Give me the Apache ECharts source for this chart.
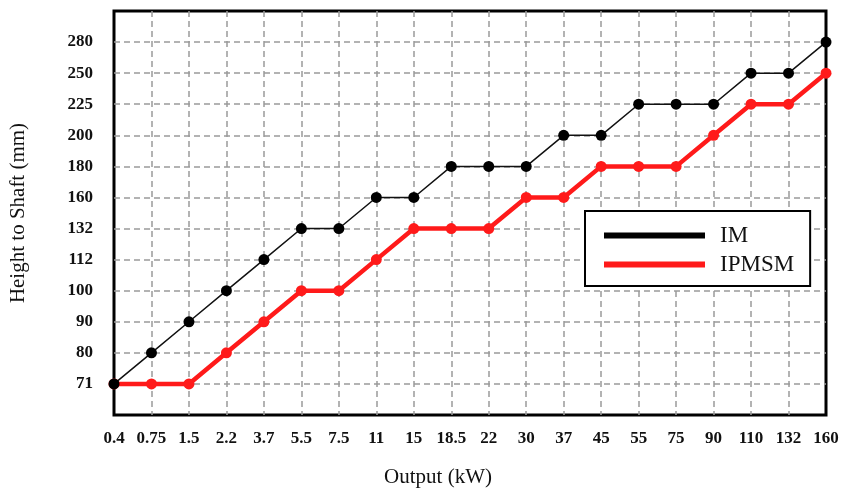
<!DOCTYPE html>
<html>
<head>
<meta charset="utf-8">
<script src="https://cdn.jsdelivr.net/npm/echarts@6/dist/echarts.min.js"></script>
<style>
  html, body { margin: 0; padding: 0; background: #fff; }
  #chart { width: 845px; height: 493px; }
</style>
</head>
<body>
<div id="chart"></div>
<script>
// Rated output classes (kW), shown as evenly spaced categories
const outputs = ['0.4', '0.75', '1.5', '2.2', '3.7', '5.5', '7.5', '11', '15', '18.5',
                 '22', '30', '37', '45', '55', '75', '90', '110', '132', '160'];

// Standard frame shaft heights (mm), evenly spaced with an empty slot at each end
const heightTicks = [' ', '71', '80', '90', '100', '112', '132', '160', '180', '200', '225', '250', '280', '  '];

// Shaft height per output class
const imHeights    = [71, 80, 90, 100, 112, 132, 132, 160, 160, 180, 180, 180, 200, 200, 225, 225, 225, 250, 250, 280];
const ipmsmHeights = [71, 71, 71, 80, 90, 100, 100, 112, 132, 132, 132, 160, 160, 180, 180, 180, 200, 225, 225, 250];

const serif = '"Liberation Serif", "DejaVu Serif", serif';

function pairs(values) {
  return values.map((v, i) => [outputs[i], String(v)]);
}

// Inner grid lines only; the frame itself is the solid grid border
function innerOnly(count) {
  return (index) => index > 0 && index < count - 1;
}

const gridLine = { color: '#9a9a9a', width: 1.5, type: [6, 4] };

const chart = echarts.init(document.getElementById('chart'), null, { renderer: 'canvas' });

chart.setOption({
  backgroundColor: '#fff',
  animation: false,
  grid: {
    left: 112, right: 19, top: 11, bottom: 75,
    show: true,
    borderColor: '#000',
    borderWidth: 3,
    backgroundColor: 'transparent'
  },
  xAxis: {
    type: 'category',
    data: outputs,
    boundaryGap: false,
    name: 'Output (kW)',
    nameLocation: 'middle',
    nameGap: 52,
    nameTextStyle: { fontFamily: serif, fontSize: 21, color: '#111', padding: [0, 64, 0, 0] },
    axisLine: { show: false },
    axisTick: { show: false },
    axisLabel: { fontFamily: serif, fontSize: 17, fontWeight: 'bold', color: '#111', margin: 15, interval: 0 },
    splitLine: { show: true, interval: innerOnly(outputs.length), lineStyle: gridLine }
  },
  yAxis: {
    type: 'category',
    data: heightTicks,
    boundaryGap: false,
    name: 'Height to Shaft (mm)',
    nameLocation: 'middle',
    nameGap: 85,
    nameTextStyle: { fontFamily: serif, fontSize: 21, color: '#111' },
    axisLine: { show: false },
    axisTick: { show: false },
    axisLabel: { fontFamily: serif, fontSize: 17, fontWeight: 'bold', color: '#111', margin: 21, interval: 0 },
    splitLine: { show: true, interval: innerOnly(heightTicks.length), lineStyle: gridLine }
  },
  legend: {
    orient: 'vertical',
    left: 585,
    top: 211,
    padding: [13, 16, 10, 19],
    itemGap: 6,
    itemWidth: 101,
    itemHeight: 6,
    backgroundColor: '#fff',
    borderColor: '#000',
    borderWidth: 2,
    borderRadius: 0,
    textStyle: { fontFamily: serif, fontSize: 23, color: '#111', padding: [0, 0, 0, 10] },
    data: [
      { name: 'IM', icon: 'rect', itemStyle: { color: '#000' } },
      { name: 'IPMSM', icon: 'rect', itemStyle: { color: '#ff1a1a' } }
    ]
  },
  series: [
    {
      name: 'IM',
      type: 'line',
      data: pairs(imHeights),
      symbol: 'circle',
      symbolSize: 11,
      lineStyle: { color: '#111', width: 1.5 },
      itemStyle: { color: '#000' },
      z: 3
    },
    {
      name: 'IPMSM',
      type: 'line',
      data: pairs(ipmsmHeights),
      symbol: 'circle',
      symbolSize: 11,
      lineStyle: { color: '#ff1a1a', width: 4.5 },
      itemStyle: { color: '#ff1a1a' },
      z: 2
    }
  ]
});
</script>
</body>
</html>
